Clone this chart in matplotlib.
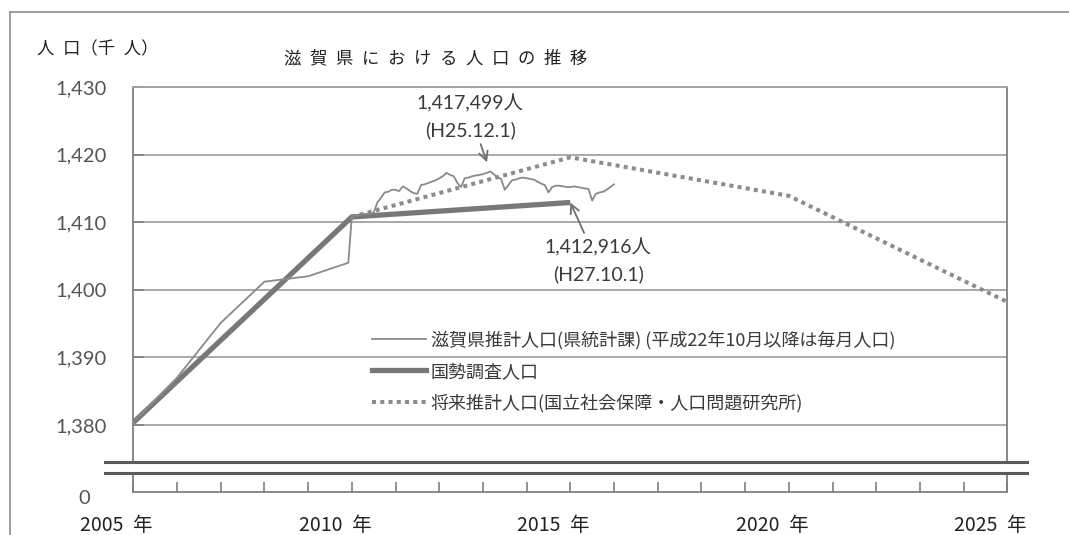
import matplotlib
matplotlib.use("Agg")
import matplotlib.pyplot as plt
import matplotlib.transforms as mtransforms
from matplotlib.lines import Line2D

# ---------------- data (thousands of people) ----------------
# 国勢調査人口 (census, Oct 1)
census_years = [2005, 2010, 2015]
census_values = [1380.361, 1410.777, 1412.916]

# 滋賀県推計人口 annual estimates before the 2010 census (last one = Sep 2010)
est_years = [2005, 2006, 2007, 2008, 2009, 2009.92]
est_values = [1380.4, 1387.0, 1395.1, 1401.2, 1402.0, 1404.0]

# monthly estimates from Oct 2010 onward
monthly_start = 2010.0
monthly_values = [
    1410.8, 1411.0, 1411.1, 1411.2, 1411.2, 1411.3, 1411.4, 1412.9, 1413.6, 1414.4,
    1414.5, 1414.8, 1414.8, 1414.6, 1415.3, 1415.0, 1414.6, 1414.3, 1414.2, 1415.5,
    1415.6, 1415.8, 1416.0, 1416.2, 1416.5, 1416.8, 1417.3, 1417.0, 1416.8, 1415.8,
    1415.2, 1416.5, 1416.6, 1416.8, 1416.9, 1417.0, 1417.1, 1417.3, 1417.5, 1417.1,
    1416.6, 1416.4, 1414.8, 1415.5, 1416.2, 1416.3, 1416.5, 1416.6, 1416.5, 1416.4,
    1416.3, 1416.0, 1415.7, 1415.5, 1414.4, 1415.2, 1415.4, 1415.4, 1415.3, 1415.2,
    1415.2, 1415.3, 1415.2, 1415.1, 1415.0, 1414.9, 1413.2, 1414.2, 1414.4, 1414.5,
    1414.8, 1415.2, 1415.6,
]
monthly_years = [monthly_start + i / 12 for i in range(len(monthly_values))]

# 将来推計人口 (projection)
proj_years = [2010, 2015, 2020, 2025]
proj_values = [1410.777, 1419.6, 1413.9, 1398.2]

# peak annotation (H25.12.1)
peak_year = 2010.0 + 38 / 12
peak_value = 1417.499

yticks = [1380, 1390, 1400, 1410, 1420, 1430]
ytick_labels = ["1,380", "1,390", "1,400", "1,410", "1,420", "1,430"]
year_ticks = list(range(2005, 2026))
year_labels = [f"{y}\u2002年" if y % 5 == 0 else "" for y in year_ticks]

title = "滋\u2002賀\u2002県\u2002に\u2002お\u2002け\u2002る\u2002人\u2002口\u2002の\u2002推\u2002移"
ylabel = "人\u2002口（千\u2002人）"
legend_labels = [
    "滋賀県推計人口(県統計課) (平成22年10月以降は毎月人口)",
    "国勢調査人口",
    "将来推計人口(国立社会保障・人口問題研究所)",
]

# ---------------- style ----------------
CJK = ["Noto Sans CJK JP", "DejaVu Sans"]
NUM = ["Lato", "Noto Sans CJK JP", "DejaVu Sans"]
plt.rcParams["font.family"] = CJK

W, H = 1069, 535
fig = plt.figure(figsize=(W / 100, H / 100), dpi=100)


def fx(px):
    return px / W


def fy(py):
    return 1 - py / H


L, R = 133.3, 1007.3
TOP, BRK1, BRK2, BOT = 87.0, 461.7, 473.3, 491.7

ax = fig.add_axes([fx(L), fy(BRK1), fx(R) - fx(L), fy(TOP) - fy(BRK1)])
ax2 = fig.add_axes([fx(L), fy(BOT), fx(R) - fx(L), fy(BRK2) - fy(BOT)])

grid_c = "#a3a3a3"
axis_c = "#7f7f7f"
line_thin_c = "#8a8a8a"
line_thick_c = "#787878"
dot_c = "#8c8c8c"
text_c = "#555555"

# upper axes
ax.set_xlim(2005, 2025)
ylo = 1380 - (BRK1 - 425) / ((425 - TOP) / 50)
ax.set_ylim(ylo, 1430)
ax.set_yticks(yticks)
ax.set_yticklabels(ytick_labels, family=NUM, fontsize=14.5, color=text_c)
ax.tick_params(axis="y", direction="in", length=8, width=1.2, color=axis_c, pad=19)
ax.set_xticks([])
for yv in yticks:
    ax.axhline(yv, color=grid_c, lw=1.3, zorder=1)
for s in ["left", "right", "top"]:
    ax.spines[s].set_color(axis_c)
    ax.spines[s].set_linewidth(1.3)
ax.spines["top"].set_color(grid_c)
ax.spines["bottom"].set_visible(False)

ax.plot(est_years + monthly_years, est_values + monthly_values,
        color=line_thin_c, lw=1.3, zorder=4, solid_joinstyle="round")
ax.plot(census_years, census_values, color=line_thick_c, lw=3.8, zorder=3,
        solid_capstyle="butt")
ax.plot(proj_years, proj_values, color=dot_c, lw=2.9, zorder=2,
        linestyle=(0, (1.0, 1.05)), dash_capstyle="butt")

# annotations
ax.annotate("1,417,499人\n(H25.12.1)", xy=(peak_year, peak_value),
            xytext=(-20, 55), textcoords="offset pixels",
            ha="center", va="center", fontsize=14, family=NUM, color="#3a3a3a",
            linespacing=1.55,
            arrowprops=dict(arrowstyle="->", color="#6f6f6f", lw=1.3,
                            relpos=(0.58, 0), shrinkA=2, shrinkB=7,
                            mutation_scale=16))
ax.annotate("1,412,916人\n(H27.10.1)", xy=(census_years[-1], census_values[-1]),
            xytext=(28, -58), textcoords="offset pixels",
            ha="center", va="center", fontsize=14, family=NUM, color="#3a3a3a",
            linespacing=1.55,
            arrowprops=dict(arrowstyle="->", color="#6f6f6f", lw=1.3,
                            relpos=(0.39, 1), shrinkA=2, shrinkB=0,
                            mutation_scale=16))

# legend
handles = [
    Line2D([], [], color=line_thin_c, lw=1.3),
    Line2D([], [], color=line_thick_c, lw=3.8),
    Line2D([], [], color=dot_c, lw=2.9, linestyle=(0, (1.0, 1.05))),
]
leg = ax.legend(handles, legend_labels, loc="upper left",
                bbox_to_anchor=((372 - L) / (R - L), (BRK1 - 331) / (BRK1 - TOP)),
                frameon=False, fontsize=13, borderpad=0, borderaxespad=0,
                handlelength=3.0, handletextpad=0.25, labelspacing=0.72)
for t in leg.get_texts():
    t.set_color("#3a3a3a")

# lower axes (0 part)
ax2.set_xlim(2005, 2025)
ax2.set_ylim(0, 1)
ax2.set_yticks([0])
ax2.set_yticklabels(["0"], family=NUM, fontsize=14.5, color=text_c)
ax2.tick_params(axis="y", length=0, pad=31)
ax2.set_xticks(year_ticks)
ax2.set_xticklabels(year_labels, fontsize=14, color="#222222")
ax2.tick_params(axis="x", direction="in", length=7, width=1.2, color=axis_c, pad=17)
for s in ["left", "right", "bottom"]:
    ax2.spines[s].set_color(axis_c)
    ax2.spines[s].set_linewidth(1.3)
ax2.spines["top"].set_visible(False)
off = mtransforms.ScaledTranslation(-16.5 / 100, 0, fig.dpi_scale_trans)
for lab in ax2.get_xticklabels():
    lab.set_transform(lab.get_transform() + off)
off0 = mtransforms.ScaledTranslation(0, -5 / 100, fig.dpi_scale_trans)
for lab in ax2.get_yticklabels():
    lab.set_transform(lab.get_transform() + off0)

# axis-break double lines
for yb in (BRK1, BRK2):
    fig.add_artist(Line2D([fx(105), fx(1027)], [fy(yb), fy(yb)], color="#5a5a5a",
                          lw=2.2, transform=fig.transFigure))

# outer frame (top and left)
fig.add_artist(Line2D([fx(9.5), 1.0], [fy(12), fy(12)], color="#8c8c8c", lw=1.2,
                      transform=fig.transFigure))
fig.add_artist(Line2D([fx(9.5), fx(9.5)], [fy(12), 0.0], color="#8c8c8c", lw=1.2,
                      transform=fig.transFigure))

# titles
fig.text(fx(37), fy(49), ylabel, ha="left", va="center", fontsize=12.5, color="#222222")
fig.text(fx(284), fy(58), title, ha="left", va="center", fontsize=12.5, color="#222222")

fig.savefig("out.png", dpi=100)
